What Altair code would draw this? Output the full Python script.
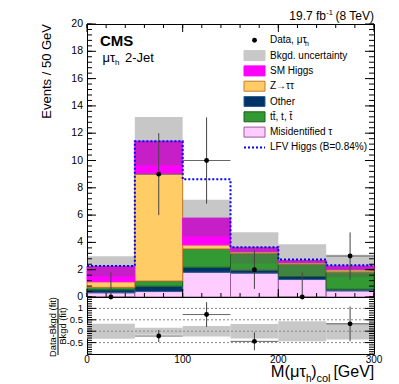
import altair as alt
import pandas as pd
import numpy as np

FONT = "Liberation Sans"

# ---------------- data ----------------
bin_lo = [0, 50, 100, 150, 200, 250]
bin_hi = [50, 100, 150, 200, 250, 300]
misid = [0.31, 0.40, 1.81, 1.75, 1.28, 0.45]
other = [0.22, 0.39, 0.37, 0.21, 0.22, 0.12]
ttbar = [0.18, 0.38, 1.34, 1.21, 0.90, 1.25]
ztt = [0.41, 7.86, 0.30, 0.15, 0.12, 0.19]
smh = [1.13, 2.38, 1.96, 0.29, 0.16, 0.26]
bkg_unc = [0.74, 1.78, 1.34, 1.14, 1.18, 0.82]
lfv = [0.03, 0.0, 2.84, 0.04, 0.06, 0.05]
data = [0, 9, 10, 2, 0, 3]
data_err_lo = [0, 3.0, 3.16, 1.41, 0, 1.73]
data_err_hi = [1.8, 3.0, 3.16, 1.41, 1.8, 1.73]

comp_names = ["Misidentified τ", "Other", "tt", "Z→ττ", "SM Higgs"]
comp_vals = [misid, other, ttbar, ztt, smh]
comp_fill = ["#ffccff", "#003366", "#339933", "#ffcc66", "#ff00ff"]
comp_stroke = ["#9a5a9a", "#2d5f99", "#1f5f1f", "#c8782a", "#ff00ff"]

y_ticks_main = list(range(0, 21, 2))
x_ticks = [0, 100, 200, 300]
ratio_ticks = [-0.5, 0, 0.5, 1]
ratio_labels = ["-0.5", "0", "0.5", "1"]

W, H1, H2 = 287, 273, 57

# ---------------- tables ----------------
rows = []
cum = np.zeros(6)
for name, vals, f, s in zip(comp_names, comp_vals, comp_fill, comp_stroke):
    v = np.array(vals)
    for i in range(6):
        rows.append(dict(comp=name, lo=bin_lo[i], hi=bin_hi[i], y0=cum[i], y1=cum[i] + v[i], fill=f, stroke=s))
    cum = cum + v
stack = pd.DataFrame(rows)
total = cum

bins = pd.DataFrame(dict(lo=bin_lo, hi=bin_hi, total=total, unc=bkg_unc,
                         c=[(a + b) / 2 for a, b in zip(bin_lo, bin_hi)],
                         data=data, elo=data_err_lo, ehi=data_err_hi))
bins["ulo"] = bins.total - bins.unc
bins["uhi"] = bins.total + bins.unc
bins["dlo"] = bins.data - bins.elo
bins["dhi"] = bins.data + bins.ehi
bins["rband"] = bins.unc / bins.total
bins["nband"] = -bins.rband
bins["r"] = (bins.data - bins.total) / bins.total
bins["rlo"] = bins.r - bins.elo / bins.total
bins["rhi"] = bins.r + bins.ehi / bins.total

sig = pd.DataFrame(dict(x=bin_lo + [bin_hi[-1]],
                        y=list(total + np.array(lfv)) + [total[-1] + lfv[-1]]))

xs = alt.Scale(domain=[0, 300], nice=False, zero=False)
ys = alt.Scale(domain=[0, 20], nice=False, zero=False)
rs = alt.Scale(domain=[-1, 1.5], nice=False, zero=False)


def X(f):
    return alt.X(f, scale=xs, axis=None)


def Y(f, s):
    return alt.Y(f, scale=s, axis=None)


def txt(x, y, s, size=10, align="left", baseline="alphabetic", weight="normal", angle=0, color="black"):
    return alt.Chart(pd.DataFrame({"t": [s]})).mark_text(
        align=align, baseline=baseline, fontSize=size, fontWeight=weight, angle=angle,
        font=FONT, color=color
    ).encode(x=alt.value(x), y=alt.value(y), text="t:N")


# ---------------- top panel ----------------
stack_l = alt.Chart(stack).mark_rect(strokeWidth=1).encode(
    x=X("lo:Q"), x2="hi:Q", y=Y("y0:Q", ys), y2="y1:Q",
    fill=alt.Fill("fill:N", scale=None), stroke=alt.Stroke("stroke:N", scale=None),
)

unc_l = alt.Chart(bins).mark_rect(color="#5c5c5c", opacity=0.34).encode(
    x=X("lo:Q"), x2="hi:Q", y=Y("ulo:Q", ys), y2="uhi:Q")

sig_l = alt.Chart(sig).mark_line(interpolate="step-after", color="#0000ff", strokeWidth=2,
                                 strokeDash=[2, 2]).encode(x=X("x:Q"), y=Y("y:Q", ys))

ev_l = alt.Chart(bins).mark_rule(color="#444444", strokeWidth=1).encode(
    x=X("c:Q"), y=Y("dlo:Q", ys), y2="dhi:Q")
eh_l = alt.Chart(bins).mark_rule(color="#666666", strokeWidth=1).encode(
    x=X("lo:Q"), x2="hi:Q", y=Y("data:Q", ys))
pt_l = alt.Chart(bins).mark_circle(color="black", opacity=1, size=24).encode(
    x=X("c:Q"), y=Y("data:Q", ys))

ymaj = pd.DataFrame({"v": y_ticks_main, "lab": [str(v) for v in y_ticks_main]})
ymin = pd.DataFrame({"v": [round(v, 2) for v in np.arange(0, 20.01, 0.4)]})
xmaj = pd.DataFrame({"v": x_ticks, "lab": [str(v) for v in x_ticks]})
xmin = pd.DataFrame({"v": list(range(0, 301, 20))})


def yticks(df, scale, length):
    a = alt.Chart(df).mark_rule(color="black", strokeWidth=1).encode(
        y=Y("v:Q", scale), x=alt.value(0), x2=alt.value(length))
    b = alt.Chart(df).mark_rule(color="black", strokeWidth=1).encode(
        y=Y("v:Q", scale), x=alt.value(W - length), x2=alt.value(W))
    return [a, b]


def xticks(df, h, length, top=True):
    out = [alt.Chart(df).mark_rule(color="black", strokeWidth=1).encode(
        x=X("v:Q"), y=alt.value(h), y2=alt.value(h - length))]
    if top:
        out.append(alt.Chart(df).mark_rule(color="black", strokeWidth=1).encode(
            x=X("v:Q"), y=alt.value(0), y2=alt.value(length)))
    return out


ylabels = alt.Chart(ymaj).mark_text(align="right", baseline="middle", fontSize=10.5, font=FONT).encode(
    y=Y("v:Q", ys), x=alt.value(-4), text="lab:N")

# legend
leg = pd.DataFrame(dict(
    label=["Bkgd. uncertainty", "SM Higgs", "Z→ττ", "Other", "tt\u0304, t, t\u0304", "Misidentified τ"],
    fill=["#c8c8c8", "#ff00ff", "#ffcc66", "#003366", "#339933", "#ffccff"],
    stroke=["#c8c8c8", "#ff00ff", "#c8782a", "#2d5f99", "#1f5f1f", "#9a5a9a"],
))
y0_leg, dy_leg = 16.3, 15.3
leg["yc"] = [y0_leg + dy_leg * (i + 1) for i in range(len(leg))]
leg["ya"] = leg.yc - 5
leg["yb"] = leg.yc + 5
leg_box = alt.Chart(leg).mark_rect(strokeWidth=1).encode(
    x=alt.value(157), x2=alt.value(178), y=alt.Y("ya:Q", scale=None), y2=alt.Y2("yb:Q"),
    fill=alt.Fill("fill:N", scale=None), stroke=alt.Stroke("stroke:N", scale=None))
leg_txt = alt.Chart(leg).mark_text(align="left", baseline="middle", fontSize=10, font=FONT).encode(
    x=alt.value(183), y=alt.Y("yc:Q", scale=None), text="label:N")
y_lfv = y0_leg + dy_leg * 7
leg_lfv_line = alt.Chart(pd.DataFrame({"a": [0]})).mark_rule(color="#0000ff", strokeWidth=2, strokeDash=[2, 2]).encode(
    x=alt.value(157), x2=alt.value(178), y=alt.value(y_lfv))
leg_lfv_txt = txt(183, y_lfv, "LFV Higgs (B=0.84%)", 10, baseline="middle")
leg_pt = alt.Chart(pd.DataFrame({"a": [0]})).mark_circle(color="black", opacity=1, size=24).encode(
    x=alt.value(167.5), y=alt.value(y0_leg))
leg_data_txt = txt(183, y0_leg, "Data, μτ", 10, baseline="middle")
leg_data_sub = txt(218, y0_leg + 4, "h", 7, baseline="middle")

texts_top = [
    txt(13, 22, "CMS", 15, weight="bold"),
    txt(15.5, 38, "μτ", 13),
    txt(28, 41, "h", 8),
    txt(38, 38, "2-Jet", 13),
    txt(W, -4.5, "(8 TeV)", 12, align="right"),
    txt(239.3, -9.5, "-1", 7.5),
    txt(239, -4.5, "19.7 fb", 12, align="right"),
    txt(-33, 0, "Events / 50 GeV", 13, align="right", baseline="bottom", angle=270),
]

# invisible anchor fixing the top-left corner of the layout
anchor = alt.Chart(pd.DataFrame({"a": [0]})).mark_rule(opacity=0, strokeWidth=0.01).encode(
    x=alt.value(-78), x2=alt.value(-70), y=alt.value(-14))

top = alt.layer(
    anchor,
    stack_l, unc_l, sig_l, ev_l, eh_l, pt_l,
    *yticks(ymaj, ys, 9), *yticks(ymin, ys, 5),
    *xticks(xmaj, H1, 8), *xticks(xmin, H1, 4),
    ylabels,
    leg_box, leg_txt, leg_lfv_line, leg_lfv_txt, leg_pt, leg_data_txt, leg_data_sub,
    *texts_top,
).properties(width=W, height=H1)

# ---------------- ratio panel ----------------
band = alt.Chart(bins).mark_rect(color="#c8c8c8").encode(
    x=X("lo:Q"), x2="hi:Q", y=Y("nband:Q", rs), y2="rband:Q")

dots = alt.Chart(pd.DataFrame({"v": [1, 0.5, 0, -0.5]})).mark_rule(
    color="#888888", strokeWidth=1, strokeDash=[2, 2]).encode(
    y=Y("v:Q", rs), x=alt.value(0), x2=alt.value(W))

rb = alt.Chart(bins).transform_filter("datum.data > 0")
r_ev = rb.mark_rule(color="#444444", strokeWidth=1, clip=True).encode(
    x=X("c:Q"), y=Y("rlo:Q", rs), y2="rhi:Q")
r_eh = rb.mark_rule(color="#666666", strokeWidth=1, clip=True).encode(
    x=X("lo:Q"), x2="hi:Q", y=Y("r:Q", rs))
r_pt = rb.mark_circle(color="black", opacity=1, size=24, clip=True).encode(
    x=X("c:Q"), y=Y("r:Q", rs))

rmaj = pd.DataFrame({"v": ratio_ticks, "lab": ratio_labels})
rmin = pd.DataFrame({"v": [round(v, 2) for v in np.arange(-1, 1.501, 0.1)]})

rlabels = alt.Chart(rmaj).mark_text(align="right", baseline="middle", fontSize=9.5, font=FONT).encode(
    y=Y("v:Q", rs), x=alt.value(-4), text="lab:N")
xlabels = alt.Chart(xmaj).mark_text(align="center", baseline="top", fontSize=10, font=FONT).encode(
    x=X("v:Q"), y=alt.value(H2 + 0.5), text="lab:N")

texts_bot = [
    txt(-34.5, 30, "Data-Bkgd (fit)", 9.3, align="center", baseline="middle", angle=270),
    txt(-24.5, 29, "Bkgd (fit)", 9.3, align="center", baseline="middle", angle=270),
    txt(219, 80, "M(μτ", 16.5, align="right"),
    txt(224.5, 84.5, "h", 10, align="right"),
    txt(229.5, 80, ")", 16, align="right"),
    txt(243.5, 84.5, "col", 11, align="right"),
    txt(W + 0.3, 80, "[GeV]", 16, align="right"),
]
frac = alt.Chart(pd.DataFrame({"a": [0]})).mark_rule(color="black", strokeWidth=1).encode(
    x=alt.value(-29), y=alt.value(2), y2=alt.value(58))

bottom = alt.layer(
    band, dots, r_ev, r_eh, r_pt,
    *yticks(rmaj, rs, 9), *yticks(rmin, rs, 5),
    rlabels, xlabels,
    frac, *texts_bot,
).properties(width=W, height=H2)

chart = alt.vconcat(top, bottom, spacing=0, bounds="flush").properties(
    padding=0,
).configure_view(stroke="black", strokeWidth=1)

chart.save("out.html", embed_options={"renderer": "svg", "actions": False})
